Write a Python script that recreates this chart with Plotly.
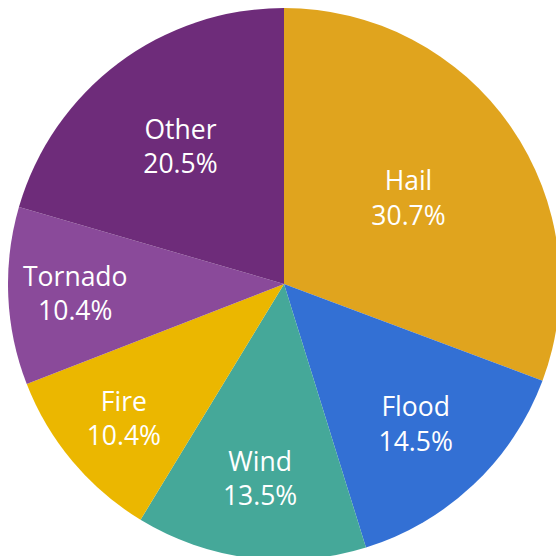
import plotly.graph_objects as go

labels = ["Hail", "Flood", "Wind", "Fire", "Tornado", "Other"]
values = [30.7, 14.5, 13.5, 10.4, 10.4, 20.5]
colors = ["#E0A41E", "#3370D4", "#45A899", "#EBB700", "#8A4A9A", "#6E2C7A"]

fig = go.Figure(go.Pie(
    labels=labels, values=values, sort=False, direction="clockwise", rotation=0,
    marker=dict(colors=colors, line=dict(width=0)),
    textinfo="label+percent", textposition="inside", insidetextorientation="horizontal",
    texttemplate="%{label}<br>%{percent:.1%}",
    textfont=dict(family="Open Sans", size=26.5, color="white"),
    showlegend=False, hoverinfo="label+percent",
))
fig.update_layout(width=568, height=568, margin=dict(l=8, r=8, t=8, b=8),
                  paper_bgcolor="white", plot_bgcolor="white")
fig.write_html("out.html", config={"displayModeBar": False})
with open("out.html") as f:
    html = f.read()
html = html.replace("<head>", "<head><style>html,body{margin:0;padding:0;overflow:hidden}</style>", 1)
with open("out.html", "w") as f:
    f.write(html)
